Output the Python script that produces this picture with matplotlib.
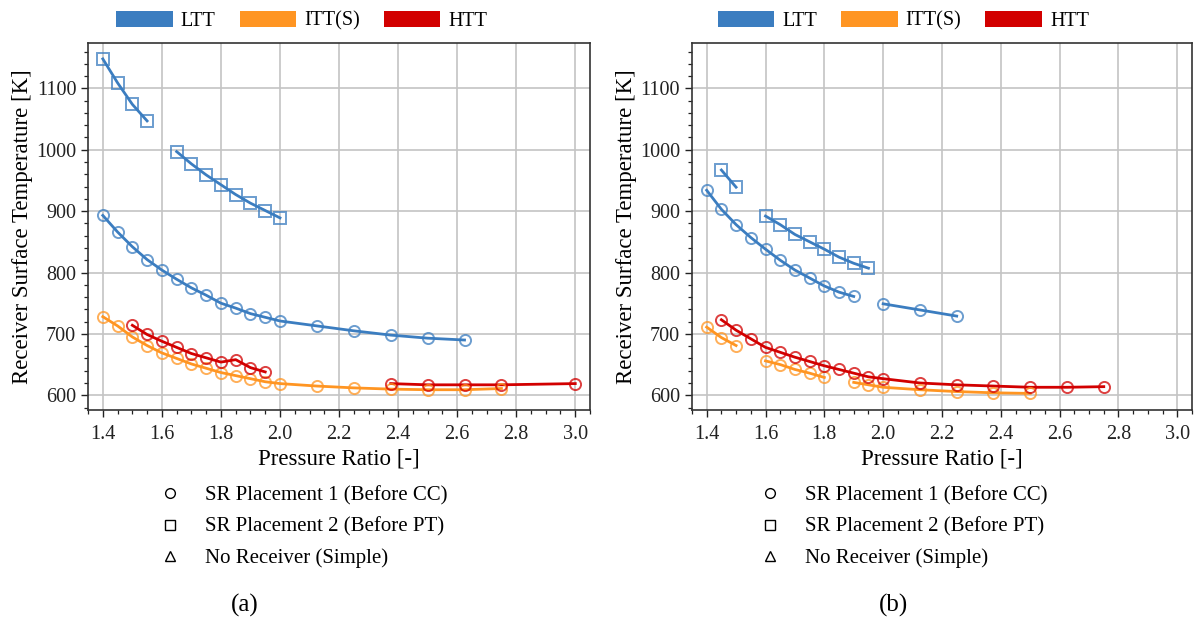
import matplotlib
matplotlib.use("Agg")
import matplotlib.pyplot as plt
from matplotlib.patches import Patch
from matplotlib.lines import Line2D
from matplotlib.ticker import MultipleLocator

plt.rcParams['font.family'] = ['Liberation Serif', 'DejaVu Serif']

# --- colores ---
c_ltt = '#3b7dc0'
c_itt = '#ff9522'
c_htt = '#d20000'

# --- panel (a) ---
a_ltt_sq1_x = [1.40, 1.45, 1.50, 1.55]
a_ltt_sq1_y = [1148, 1109, 1074, 1047]
a_ltt_sq2_x = [1.65, 1.70, 1.75, 1.80, 1.85, 1.90, 1.95, 2.00]
a_ltt_sq2_y = [997, 977, 959, 943, 927, 913, 901, 889]
a_ltt_c_x = [1.40, 1.45, 1.50, 1.55, 1.60, 1.65, 1.70, 1.75, 1.80, 1.85, 1.90, 1.95, 2.00,
             2.125, 2.25, 2.375, 2.50, 2.625]
a_ltt_c_y = [893, 866, 842, 821, 804, 789, 775, 763, 750, 742, 733, 727, 721,
             713, 705, 698, 693, 690]
a_itt_x = [1.40, 1.45, 1.50, 1.55, 1.60, 1.65, 1.70, 1.75, 1.80, 1.85, 1.90, 1.95, 2.00,
           2.125, 2.25, 2.375, 2.50, 2.625, 2.75]
a_itt_y = [728, 713, 695, 681, 669, 660, 651, 644, 637, 632, 627, 622, 619,
           615, 612, 610, 609, 609, 611]
a_htt1_x = [1.50, 1.55, 1.60, 1.65, 1.70, 1.75, 1.80, 1.85, 1.90, 1.95]
a_htt1_y = [714, 699, 688, 678, 668, 661, 654, 658, 645, 638]
a_htt2_x = [2.375, 2.50, 2.625, 2.75, 3.00]
a_htt2_y = [619, 617, 617, 617, 619]

# --- panel (b) ---
b_ltt_sq1_x = [1.45, 1.50]
b_ltt_sq1_y = [967, 939]
b_ltt_sq2_x = [1.60, 1.65, 1.70, 1.75, 1.80, 1.85, 1.90, 1.95]
b_ltt_sq2_y = [892, 878, 862, 850, 838, 825, 815, 807]
b_ltt_c1_x = [1.40, 1.45, 1.50, 1.55, 1.60, 1.65, 1.70, 1.75, 1.80, 1.85, 1.90]
b_ltt_c1_y = [934, 903, 878, 857, 838, 820, 804, 791, 778, 768, 761]
b_ltt_c2_x = [2.00, 2.125, 2.25]
b_ltt_c2_y = [749, 739, 729]
b_itt1_x = [1.40, 1.45, 1.50]
b_itt1_y = [711, 694, 681]
b_itt2_x = [1.60, 1.65, 1.70, 1.75, 1.80]
b_itt2_y = [656, 650, 642, 636, 629]
b_itt3_x = [1.90, 1.95, 2.00, 2.125, 2.25, 2.375, 2.50]
b_itt3_y = [621, 617, 613, 609, 606, 604, 603]
b_htt_x = [1.45, 1.50, 1.55, 1.60, 1.65, 1.70, 1.75, 1.80, 1.85, 1.90, 1.95, 2.00,
           2.125, 2.25, 2.375, 2.50, 2.625, 2.75]
b_htt_y = [723, 706, 692, 678, 670, 662, 655, 648, 642, 636, 630, 627,
           620, 617, 615, 613, 613, 614]

series_a = [
    (a_ltt_sq1_x, a_ltt_sq1_y, c_ltt, 's'),
    (a_ltt_sq2_x, a_ltt_sq2_y, c_ltt, 's'),
    (a_ltt_c_x, a_ltt_c_y, c_ltt, 'o'),
    (a_itt_x, a_itt_y, c_itt, 'o'),
    (a_htt1_x, a_htt1_y, c_htt, 'o'),
    (a_htt2_x, a_htt2_y, c_htt, 'o'),
]
series_b = [
    (b_ltt_sq1_x, b_ltt_sq1_y, c_ltt, 's'),
    (b_ltt_sq2_x, b_ltt_sq2_y, c_ltt, 's'),
    (b_ltt_c1_x, b_ltt_c1_y, c_ltt, 'o'),
    (b_ltt_c2_x, b_ltt_c2_y, c_ltt, 'o'),
    (b_itt1_x, b_itt1_y, c_itt, 'o'),
    (b_itt2_x, b_itt2_y, c_itt, 'o'),
    (b_itt3_x, b_itt3_y, c_itt, 'o'),
    (b_htt_x, b_htt_y, c_htt, 'o'),
]

fig = plt.figure(figsize=(11.98, 6.29), dpi=100)
ax_a = fig.add_axes([0.0735, 0.3482, 0.4190, 0.5835])
ax_b = fig.add_axes([0.5776, 0.3482, 0.4174, 0.5835])


def dibujar(ax, series):
    for x, y, col, mk in series:
        ax.plot(x, y, color=col, linewidth=2.0, zorder=3)
        ms = 8.5 if mk == 's' else 8
        ax.plot(x, y, linestyle='none', marker=mk, markersize=ms, markerfacecolor='none',
                markeredgecolor=col, markeredgewidth=1.4, alpha=0.75, zorder=4)
    ax.set_xlim(1.35, 3.05)
    ax.set_ylim(576, 1174)
    ax.xaxis.set_major_locator(MultipleLocator(0.2))
    ax.xaxis.set_minor_locator(MultipleLocator(0.05))
    ax.yaxis.set_major_locator(MultipleLocator(100))
    ax.yaxis.set_minor_locator(MultipleLocator(20))
    ax.grid(True, which='major', color='#c4c4c4', linewidth=1.2)
    ax.set_axisbelow(True)
    ax.tick_params(which='major', length=5, width=1.0, labelsize=14.5, colors='#222222')
    ax.tick_params(axis='x', which='major', pad=6)
    ax.tick_params(which='minor', length=3, width=0.9, colors='#222222')
    for sp in ax.spines.values():
        sp.set_color('#333333')
        sp.set_linewidth(1.2)
    ax.set_xlabel('Pressure Ratio [-]', fontsize=16.5, labelpad=3)
    ax.set_ylabel('Receiver Surface Temperature [K]', fontsize=16.5, labelpad=2)


dibujar(ax_a, series_a)
dibujar(ax_b, series_b)

# leyendas de color (arriba)
color_handles = [Patch(facecolor=c_ltt, label='LTT'),
                 Patch(facecolor=c_itt, label='ITT(S)'),
                 Patch(facecolor=c_htt, label='HTT')]
# leyendas de marcadores (abajo)
marker_handles = [
    Line2D([], [], linestyle='none', marker='o', markersize=7, markerfacecolor='none',
           markeredgecolor='black', markeredgewidth=1.0, label='SR Placement 1 (Before CC)'),
    Line2D([], [], linestyle='none', marker='s', markersize=7, markerfacecolor='none',
           markeredgecolor='black', markeredgewidth=1.0, label='SR Placement 2 (Before PT)'),
    Line2D([], [], linestyle='none', marker='^', markersize=7, markerfacecolor='none',
           markeredgecolor='black', markeredgewidth=1.0, label='No Receiver (Simple)'),
]

for cx, lx in [(0.252, 0.109), (0.754, 0.610)]:
    fig.legend(handles=color_handles, loc='upper center', bbox_to_anchor=(cx, 1.012),
               ncol=3, frameon=False, fontsize=14.5, handlelength=2.8, handleheight=0.9,
               columnspacing=1.2, handletextpad=0.4)
    fig.legend(handles=marker_handles, loc='upper left', bbox_to_anchor=(lx, 0.257),
               frameon=False, fontsize=15, handlelength=2.0, handletextpad=0.65,
               labelspacing=0.56)

fig.text(0.2045, 0.038, '(a)', ha='center', va='center', fontsize=18)
fig.text(0.7455, 0.038, '(b)', ha='center', va='center', fontsize=18)

fig.savefig('out.png', dpi=100)
